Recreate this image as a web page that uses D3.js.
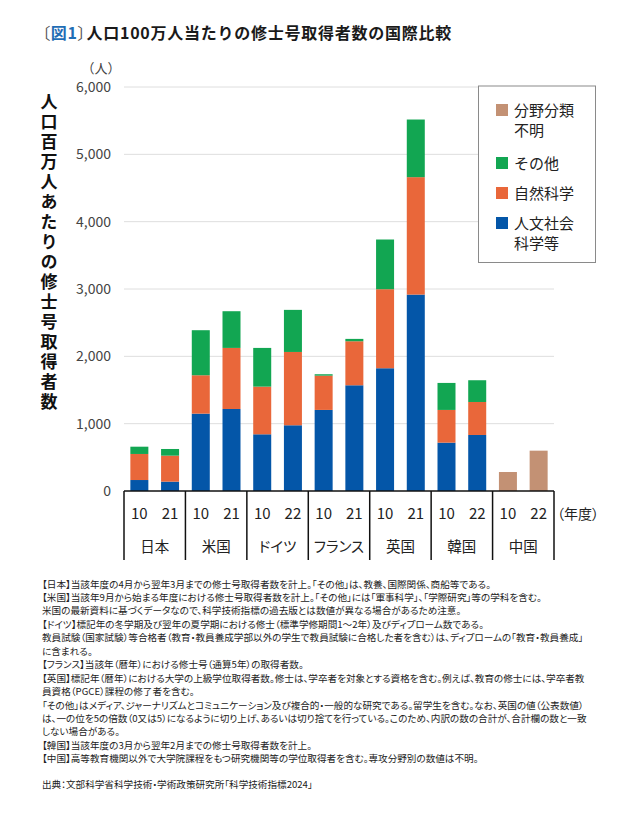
<!DOCTYPE html>
<meta charset="utf-8">
<script src="https://d3js.org/d3.v7.min.js"></script>
<style>
  body { margin: 0; background: #fff; }
  text { font-family: "Noto Sans CJK JP", "Noto Sans", sans-serif; }
  .palt { font-feature-settings: "palt"; }
</style>
<div id="chart"></div>
<script>

// data
var countries = ["日本", "米国", "ドイツ", "フランス", "英国", "韓国", "中国"];
var years = ["10", "21", "10", "21", "10", "22", "10", "21", "10", "21", "10", "22", "10", "22"];
var humanities = [163, 139, 1149, 1218, 842, 976, 1204, 1570, 1823, 2917, 718, 832, 0, 0];
var natural = [387, 386, 570, 907, 708, 1089, 509, 654, 1174, 1744, 486, 490, 0, 0];
var other = [108, 99, 669, 545, 575, 625, 21, 35, 738, 856, 401, 323, 0, 0];
var unknown = [0, 0, 0, 0, 0, 0, 0, 0, 0, 0, 0, 0, 282, 599];
var yTicks = [0, 1000, 2000, 3000, 4000, 5000, 6000];

var seriesKeys = ["humanities", "natural", "other", "unknown"];
var colors = {humanities: "#0456a8", natural: "#e9673a", other: "#12a652", unknown: "#c39174"};
var legendItems = [
  {key: "unknown", lines: ["分野分類", "不明"]},
  {key: "other", lines: ["その他"]},
  {key: "natural", lines: ["自然科学"]},
  {key: "humanities", lines: ["人文社会", "科学等"]}
];

var notes = [
  "【日本】当該年度の4月から翌年3月までの修士号取得者数を計上。「その他」は、教養、国際関係、商船等である。",
  "【米国】当該年9月から始まる年度における修士号取得者数を計上。「その他」には「軍事科学」、「学際研究」等の学科を含む。",
  "米国の最新資料に基づくデータなので、科学技術指標の過去版とは数値が異なる場合があるため注意。",
  "【ドイツ】標記年の冬学期及び翌年の夏学期における修士（標準学修期間1～2年）及びディプローム数である。",
  "教員試験（国家試験）等合格者（教育・教員養成学部以外の学生で教員試験に合格した者を含む）は、ディプロームの「教育・教員養成」",
  "に含まれる。",
  "【フランス】当該年（暦年）における修士号（通算5年）の取得者数。",
  "【英国】標記年（暦年）における大学の上級学位取得者数。修士は、学卒者を対象とする資格を含む。例えば、教育の修士には、学卒者教",
  "員資格（PGCE）課程の修了者を含む。",
  "「その他」はメディア、ジャーナリズムとコミュニケーション及び複合的・一般的な研究である。留学生を含む。なお、英国の値（公表数値）",
  "は、一の位を5の倍数（0又は5）になるように切り上げ、あるいは切り捨てを行っている。このため、内訳の数の合計が、合計欄の数と一致",
  "しない場合がある。",
  "【韓国】当該年度の3月から翌年2月までの修士号取得者数を計上。",
  "【中国】高等教育機関以外で大学院課程をもつ研究機関等の学位取得者を含む。専攻分野別の数値は不明。"
];
var source = "出典：文部科学省科学技術・学術政策研究所「科学技術指標2024」";

var rows = years.map(function(d, i) {
  return {i: i, year: d, humanities: humanities[i], natural: natural[i], other: other[i], unknown: unknown[i]};
});

var W = 640, H = 825;
var svg = d3.select("#chart").append("svg").attr("width", W).attr("height", H);

var plot = {left: 124, right: 554, top: 87, bottom: 491};

var x = d3.scaleBand().domain(d3.range(rows.length)).range([plot.left, plot.right])
  .paddingInner(0.414).paddingOuter(0.207);
var y = d3.scaleLinear().domain([0, 6000]).range([plot.bottom, plot.top]);

// title
var title = svg.append("text").attr("x", 42).attr("y", 39)
  .style("font-size", "16px").style("font-weight", "bold").style("letter-spacing", "0.75px")
  .attr("fill", "#1a1a1a");
title.append("tspan").attr("class", "palt").text("〔").style("font-weight", "normal").attr("fill", "#555");
title.append("tspan").text("図1").attr("fill", "#1f6db5");
title.append("tspan").attr("class", "palt").text("〕").style("font-weight", "normal").attr("fill", "#555");
title.append("tspan").text("人口100万人当たりの修士号取得者数の国際比較");

// grid
svg.append("g").selectAll("line").data(yTicks.filter(function(d) { return d > 0; }))
  .join("line")
  .attr("x1", plot.left).attr("x2", plot.right)
  .attr("y1", function(d) { return y(d); }).attr("y2", function(d) { return y(d); })
  .attr("stroke", "#dedede").attr("stroke-width", 1);

// y axis labels
var yAxis = svg.append("g").attr("transform", "translate(" + plot.left + ",0)")
  .call(d3.axisLeft(y).tickValues(yTicks).tickFormat(d3.format(",")).tickSize(0).tickPadding(13));
yAxis.select(".domain").remove();
yAxis.selectAll("text").style("font-family", "'Noto Sans CJK JP', sans-serif")
  .style("font-size", "14px").attr("fill", "#444");

svg.append("text").attr("x", 101).attr("y", 73).attr("text-anchor", "middle")
  .style("font-size", "13px").attr("fill", "#444").text("（人）");

// y title, written top to bottom
svg.append("text")
  .attr("x", 49).attr("y", 93)
  .style("writing-mode", "vertical-rl")
  .style("letter-spacing", "3px")
  .style("font-size", "17px").style("font-weight", "bold").attr("fill", "#111")
  .text("人口百万人あたりの修士号取得者数");

// bars
var stacked = d3.stack().keys(seriesKeys)(rows);
svg.append("g").selectAll("g").data(stacked).join("g")
  .attr("fill", function(d) { return colors[d.key]; })
  .selectAll("rect").data(function(d) { return d; }).join("rect")
  .attr("x", function(d) { return x(d.data.i); })
  .attr("width", x.bandwidth())
  .attr("y", function(d) { return y(d[1]); })
  .attr("height", function(d) { return y(d[0]) - y(d[1]); });

// legend
var lg = svg.append("g");
lg.append("rect").attr("x", 478.5).attr("y", 86).attr("width", 117).attr("height", 176.5)
  .attr("fill", "#fff").attr("stroke", "#8a8a8a").attr("stroke-width", 1);
var lgY = [110, 163, 193, 223];
legendItems.forEach(function(item, k) {
  lg.append("rect").attr("x", 496).attr("y", lgY[k] - 6).attr("width", 12).attr("height", 12)
    .attr("fill", colors[item.key]);
  item.lines.forEach(function(t, j) {
    lg.append("text").attr("x", 514).attr("y", lgY[k] + 5.5 + j * 20)
      .style("font-size", "15px").attr("fill", "#222").text(t);
  });
});

// x axis
var step = x.step();
var gap = (step - x.bandwidth()) / 2;
svg.append("line").attr("x1", plot.left).attr("x2", plot.right)
  .attr("y1", plot.bottom).attr("y2", plot.bottom)
  .attr("stroke", "#111").attr("stroke-width", 1.5);

var bounds = d3.range(0, rows.length + 1, 2).map(function(i) {
  return i < rows.length ? x(i) - gap : x(rows.length - 1) + x.bandwidth() + gap;
});
svg.append("g").selectAll("line").data(bounds).join("line")
  .attr("x1", function(d) { return d; }).attr("x2", function(d) { return d; })
  .attr("y1", plot.bottom).attr("y2", 560)
  .attr("stroke", "#111").attr("stroke-width", 1.5);

svg.append("g").selectAll("text").data(rows).join("text")
  .attr("x", function(d) { return x(d.i) + x.bandwidth() / 2; })
  .attr("y", 519)
  .attr("text-anchor", "middle")
  .style("font-size", "15px").attr("fill", "#222")
  .text(function(d) { return d.year; });

svg.append("g").selectAll("text").data(countries).join("text")
  .attr("class", "palt")
  .attr("x", function(d, k) { return (bounds[k] + bounds[k + 1]) / 2; })
  .attr("y", 552)
  .attr("text-anchor", "middle")
  .style("font-size", "14.5px").attr("fill", "#222")
  .text(function(d) { return d; });

svg.append("text").attr("class", "palt").attr("x", 557).attr("y", 518.5)
  .style("font-size", "14px").attr("fill", "#222").text("（年度）");

// notes
svg.append("g").selectAll("text").data(notes).join("text")
  .attr("class", "palt")
  .attr("x", 42).attr("y", function(d, i) { return 587.5 + i * 13.45; })
  .style("font-size", "9.6px").attr("fill", "#222")
  .text(function(d) { return d; });

svg.append("text").attr("class", "palt").attr("x", 42).attr("y", 787.5)
  .style("font-size", "9.6px").attr("fill", "#222").text(source);

</script>
